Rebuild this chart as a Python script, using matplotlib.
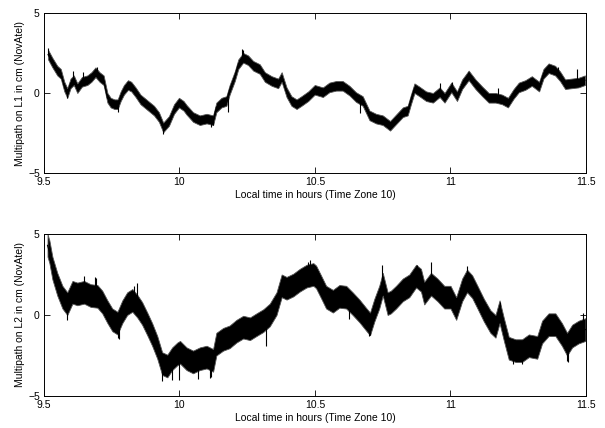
import numpy as np
import matplotlib
matplotlib.use("Agg")
import matplotlib.pyplot as plt

plt.rcParams['font.family'] = ['Liberation Sans', 'DejaVu Sans']

# L1 multipath: centre of the noisy trace (hours, cm)
t_l1 = [9.515, 9.531, 9.549, 9.562, 9.575, 9.586, 9.598, 9.61, 9.623, 9.64,
        9.66, 9.675, 9.69, 9.705, 9.72, 9.734, 9.746, 9.76, 9.772, 9.783,
        9.795, 9.81, 9.822, 9.838, 9.856, 9.881, 9.906, 9.924, 9.94, 9.961,
        9.98, 9.998, 10.015, 10.026, 10.05, 10.075, 10.1, 10.124, 10.136, 10.155,
        10.173, 10.185, 10.204, 10.217, 10.235, 10.253, 10.272, 10.296, 10.315, 10.34,
        10.364, 10.377, 10.395, 10.413, 10.432, 10.45, 10.475, 10.499, 10.529, 10.553,
        10.578, 10.602, 10.627, 10.651, 10.676, 10.701, 10.725, 10.75, 10.777, 10.799,
        10.824, 10.842, 10.854, 10.867, 10.885, 10.91, 10.935, 10.96, 10.978, 11.003,
        11.024, 11.043, 11.067, 11.092, 11.117, 11.141, 11.166, 11.19, 11.212, 11.233,
        11.252, 11.276, 11.3, 11.327, 11.343, 11.362, 11.386, 11.404, 11.423, 11.447,
        11.472, 11.496]
m_l1 = [2.4, 1.9, 1.4, 1.2, 0.4, 0.0, 0.6, 0.8, 0.3, 0.7,
        0.8, 1.0, 1.3, 1.0, 0.8, -0.3, -0.6, -0.7, -0.7, -0.2,
        0.2, 0.5, 0.4, 0.05, -0.4, -0.75, -1.1, -1.5, -2.15, -1.75,
        -1.0, -0.6, -0.8, -1.05, -1.5, -1.7, -1.6, -1.7, -0.9, -0.6,
        -0.5, 0.2, 1.05, 1.8, 2.2, 2.05, 1.7, 1.5, 1.0, 0.75,
        0.6, 1.0, 0.05, -0.5, -0.7, -0.5, -0.2, 0.2, 0.05, 0.35,
        0.45, 0.45, 0.15, -0.25, -0.5, -1.4, -1.6, -1.7, -2.05, -1.65,
        -1.2, -1.1, -0.4, 0.3, 0.1, -0.2, -0.3, 0.05, -0.3, 0.35,
        -0.2, 0.55, 1.1, 0.55, 0.1, -0.3, -0.3, -0.4, -0.6, -0.05,
        0.35, 0.5, 0.75, 0.4, 1.2, 1.55, 1.4, 1.05, 0.55, 0.6,
        0.65, 0.8]
hw_l1 = 0.3  # half spread of the L1 noise band, cm

# L1 single-epoch spikes: time, band value, spike tip
spk_l1_t = [9.515, 9.586, 9.607, 9.644, 9.695, 9.773, 9.806, 9.94, 10.118, 10.124,
            10.179, 10.229, 10.234, 10.378, 10.666, 10.961, 11.006, 11.065, 11.175,
            11.397, 11.467]
spk_l1_base = [2.4, 0.0, 0.8, 0.7, 1.2, -0.6, 0.5, -2.1, -1.7, -1.7,
               -0.3, 2.1, 2.2, 1.0, -0.45, 0.05, 0.3, 1.1, -0.4,
               1.2, 0.65]
spk_l1_tip = [2.8, -0.3, 1.4, 1.3, 1.65, -1.2, 0.7, -2.55, -2.1, -2.0,
              -1.2, 2.75, 2.7, 1.0, -1.25, 0.6, 0.7, 1.3, 0.3,
              1.6, 1.5]

# L2 multipath: centre of the noisy trace (hours, cm)
t_l2 = [9.513, 9.52, 9.531, 9.549, 9.568, 9.586, 9.605, 9.623, 9.648, 9.672,
        9.697, 9.715, 9.734, 9.752, 9.771, 9.789, 9.807, 9.826, 9.844, 9.862,
        9.881, 9.899, 9.918, 9.936, 9.955, 9.973, 9.992, 10.002, 10.026, 10.05,
        10.075, 10.1, 10.124, 10.136, 10.161, 10.185, 10.21, 10.235, 10.26, 10.284,
        10.309, 10.333, 10.358, 10.377, 10.395, 10.42, 10.444, 10.469, 10.494, 10.504,
        10.522, 10.541, 10.566, 10.59, 10.615, 10.639, 10.664, 10.688, 10.703, 10.719,
        10.737, 10.75, 10.768, 10.78, 10.799, 10.824, 10.848, 10.873, 10.891, 10.903,
        10.928, 10.952, 10.977, 11.0, 11.021, 11.043, 11.061, 11.08, 11.098, 11.123,
        11.147, 11.166, 11.181, 11.197, 11.215, 11.24, 11.264, 11.289, 11.32, 11.338,
        11.362, 11.387, 11.411, 11.43, 11.449, 11.473, 11.498]
m_l2 = [4.3, 3.9, 2.9, 1.9, 1.1, 0.7, 1.4, 1.3, 1.4, 1.2,
        1.15, 0.8, 0.2, -0.3, -0.5, 0.2, 0.7, 0.9, 0.55, 0.1,
        -0.55, -1.2, -2.0, -3.0, -3.15, -2.7, -2.4, -2.3, -2.7, -2.9,
        -2.7, -2.6, -2.8, -1.8, -1.5, -1.35, -1.0, -0.75, -0.85, -0.6,
        -0.35, 0.0, 0.7, 1.8, 1.65, 1.85, 2.15, 2.4, 2.5, 2.35,
        1.75, 1.1, 0.85, 1.15, 1.1, 0.7, 0.25, -0.25, -0.55, 0.3,
        1.1, 1.9, 0.7, 0.8, 1.1, 1.55, 1.8, 2.4, 2.15, 1.35,
        1.9, 1.55, 1.1, 1.1, 0.4, 1.55, 2.1, 1.75, 1.15, 0.3,
        -0.4, -0.7, 0.2, -0.9, -2.05, -2.2, -2.2, -1.9, -2.0, -1.05,
        -0.6, -0.6, -1.2, -1.8, -1.3, -1.05, -0.9]
hw_l2 = 0.7  # half spread of the L2 noise band, cm

# L2 single-epoch spikes: time, band value, spike tip
spk_l2_t = [9.518, 9.586, 9.648, 9.688, 9.691, 9.773, 9.777, 9.832, 9.843, 9.935,
            9.973, 10.0, 10.068, 10.113, 10.118, 10.321, 10.475, 10.48, 10.627,
            10.701, 10.703, 10.747, 10.876, 10.928, 11.061, 11.183, 11.231, 11.264,
            11.43, 11.434, 11.49]
spk_l2_base = [3.9, 0.7, 1.4, 1.15, 1.15, -0.45, -0.4, 0.8, 0.6, -3.0,
               -2.7, -2.3, -2.75, -2.7, -2.75, -0.2, 2.4, 2.45, 1.0,
               -0.5, -0.5, 1.8, 2.3, 1.9, 2.1, 0.2, -2.1, -2.2,
               -1.8, -1.7, -0.95]
spk_l2_tip = [4.1, -0.3, 2.4, 2.35, 2.3, -1.4, -1.5, 1.8, 2.0, -4.1,
              -4.0, -4.0, -3.95, -3.9, -3.85, -1.9, 3.3, 3.4, -0.25,
              -1.3, -1.25, 3.1, 3.1, 3.25, 3.0, 0.8, -3.0, -3.0,
              -2.85, -2.9, 0.1]

xticks = [9.5, 10, 10.5, 11, 11.5]
xtick_labels = ['9.5', '10', '10.5', '11', '11.5']
yticks = [-5, 0, 5]
xlabel = 'Local time in hours (Time Zone 10)'
ylabels = ['Multipath on L1 in cm (NovAtel)', 'Multipath on L2 in cm (NovAtel)']

fig = plt.figure(figsize=(6.05, 4.28), dpi=100)
ax1 = fig.add_axes([0.0727, 0.5958, 0.8959, 0.3738])
ax2 = fig.add_axes([0.0727, 0.0748, 0.8959, 0.3785])

panels = [
    (ax1, t_l1, m_l1, hw_l1, spk_l1_t, spk_l1_base, spk_l1_tip, ylabels[0]),
    (ax2, t_l2, m_l2, hw_l2, spk_l2_t, spk_l2_base, spk_l2_tip, ylabels[1]),
]

for ax, t, m, hw, st, sb, stip, ylab in panels:
    t = np.asarray(t)
    m = np.asarray(m)
    ax.fill_between(t, m - hw, m + hw, color='black', linewidth=0.6,
                    edgecolor='#555555')
    ax.plot(t, m, color='black', linewidth=0.8)
    ax.vlines(st, sb, stip, color='black', linewidth=0.8)

    ax.set_xlim(9.5, 11.5)
    ax.set_ylim(-5, 5)
    ax.set_xticks(xticks)
    ax.set_xticklabels(xtick_labels)
    ax.set_yticks(yticks)
    ax.tick_params(direction='in', length=4, width=0.6, labelsize=7.5,
                   top=True, right=True, pad=3)
    for s in ax.spines.values():
        s.set_linewidth(0.7)
    ax.set_xlabel(xlabel, fontsize=7.5, labelpad=2)
    ax.set_ylabel(ylab, fontsize=7.5, labelpad=2)

fig.savefig('out.png', dpi=100)
